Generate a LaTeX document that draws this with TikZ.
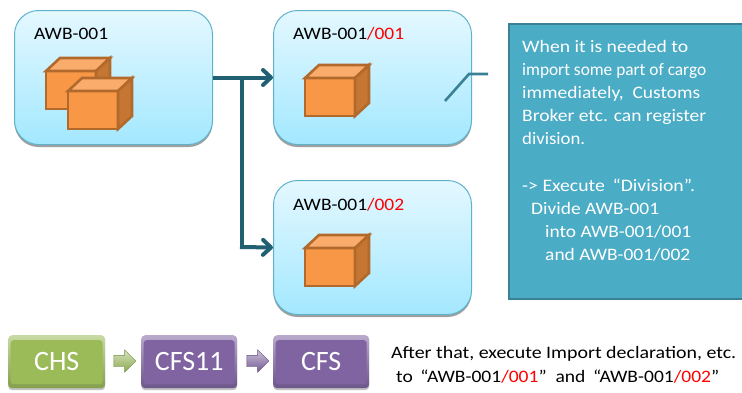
\documentclass[tikz,border=0pt]{standalone}
\usepackage{fontspec}
\setmainfont{Carlito}
\usetikzlibrary{shadows,shapes.arrows,arrows.meta,calc}
\definecolor{linkc}{HTML}{215F72}
\definecolor{callc}{HTML}{3A8196}
\definecolor{panelc}{HTML}{4BACC6}
\definecolor{boxline}{HTML}{5FB2CC}
\definecolor{redc}{HTML}{FF0000}
\definecolor{cubeline}{HTML}{B2692C}
\definecolor{boxtop}{HTML}{E4F8FF}
\definecolor{boxbot}{HTML}{A3E8FF}
\definecolor{cubefront}{HTML}{F89846}
\definecolor{cubetop}{HTML}{FAAC6C}
\definecolor{cubeside}{HTML}{C57632}
\definecolor{greenb}{HTML}{9BBB59}
\definecolor{purpb}{HTML}{8064A2}
\newcommand{\RED}[1]{\textcolor{redc}{#1}}
\newcommand{\FIT}[2]{\resizebox{#1pt}{\height}{#2}}
\tikzset{
  x=1pt,y=-1pt,
  awbbox/.style={draw=boxline,line width=1pt,rounded corners=24pt,minimum width=198pt,minimum height=134pt,
    inner sep=0pt,anchor=north west,top color=boxtop,bottom color=boxbot,
    drop shadow={shadow xshift=0pt,shadow yshift=-2.5pt,opacity=.5,fill=black!75}},
  awblabel/.style={anchor=base west,inner sep=0pt,font=\fontsize{17.5}{20}\selectfont},
  bevel/.style={rounded corners=4pt,minimum width=97pt,minimum height=53pt,inner sep=0pt,anchor=north west,
    text=white,font=\fontsize{28}{30}\selectfont,
    top color=#1!55!white,bottom color=#1!85!black,
    drop shadow={shadow xshift=0pt,shadow yshift=-2pt,opacity=.4,fill=black!60},
    path picture={\fill[#1,rounded corners=3pt]
      ([shift={(2.5pt,-5pt)}]path picture bounding box.north west) rectangle
      ([shift={(-2.5pt,4pt)}]path picture bounding box.south east);}},
  blockarrow/.style={single arrow,minimum height=22pt,text height=11pt,text depth=0pt,text width=0pt,single arrow head extend=5.5pt,
    single arrow head indent=0pt,inner sep=0pt,draw=#1!75!black,line width=.4pt,
    top color=#1!40!white,bottom color=#1!90!black},
  link/.style={draw=linkc,line width=4pt,-{Straight Barb[length=8pt,width=15pt,line width=4pt,round]}},
  branch/.style={draw=linkc,line width=4pt},
  calline/.style={draw=callc,line width=2.6pt},
  panel/.style={fill=panelc,draw=callc,line width=2pt,minimum width=240pt,minimum height=275pt,anchor=north west,inner sep=0pt},
  paneltext/.style={anchor=north west,inner sep=0pt,text=white,align=left,font=\fontsize{17.5}{23}\selectfont},
  bottomtext/.style={anchor=north west,inner sep=0pt,align=left,font=\fontsize{17.5}{24}\selectfont},
  cube/.pic={
    \path[fill=cubefront,draw=cubeline,line width=2.6pt,line join=miter] (0,13) rectangle (50,51);
    \path[fill=cubetop,draw=cubeline,line width=2.6pt] (0,13) -- (14,0) -- (64,0) -- (50,13) -- cycle;
    \path[fill=cubeside,draw=cubeline,line width=2.6pt] (50,13) -- (64,0) -- (64,38) -- (50,51) -- cycle;
  }
}
\begin{document}
\begin{tikzpicture}
\useasboundingbox (0,0) rectangle (742,392);
% main boxes
\node[awbbox] (a) at (14,10) {};
\node[awbbox] (b) at (273,10) {};
\node[awbbox] (c) at (273,180) {};
\node[awblabel] (al) at (34,39) {\FIT{74}{AWB-001}};
\node[awblabel] (bl) at (293,39) {\FIT{111}{AWB-001\RED{/001}}};
\node[awblabel] (cl) at (293,210) {\FIT{111}{AWB-001\RED{/002}}};
% cubes
\pic at (46,58) {cube};
\pic at (68,78) {cube};
\pic at (305,65) {cube};
\pic at (305,235) {cube};
% connectors
\coordinate (j) at (242,77);
\coordinate (k) at (242,247);
\draw[link] (a.east) -- (b.west);
\draw[branch] (j) -- (k);
\draw[link] ([xshift=-2pt]k) -- (c.west);
% callout
\node[panel] (p) at (508,23) {};
\coordinate (c1) at (445,101);
\coordinate (c2) at (469,74);
\coordinate (c3) at (488,74);
\draw[calline] (c1) -- (c2) -- (c3);
\node[paneltext] (pt) at (522,40) {\FIT{166}{When it is needed to}\\\FIT{184}{import some part of cargo}\\\FIT{178}{immediately,\ \ Customs}\\\FIT{184}{Broker etc. can register}\\\FIT{63}{division.}\\[24pt]\FIT{173}{-> Execute \,“Division”.}\\\hspace*{9pt}\FIT{128}{Divide AWB-001}\\\hspace*{23pt}\FIT{146}{into AWB-001/001}\\\hspace*{23pt}\FIT{145}{and AWB-001/002}};
% flow
\node[bevel=greenb] (chs) at (8,335) {CHS};
\node[bevel=purpb,minimum width=96pt] (f11) at (141,335) {CFS11};
\node[bevel=purpb,minimum width=96pt] (cfs) at (273,335) {CFS};
\node[blockarrow=greenb] (ar1) at (122,361) {};
\node[blockarrow=purpb] (ar2) at (255,361) {};
\node[bottomtext] (bt) at (391,346) {\FIT{345}{After that, execute Import declaration, etc.}\\\hspace*{5pt}\FIT{323}{to \,“AWB-001\RED{/001}”\ \ and \,“AWB-001\RED{/002}”}};
\end{tikzpicture}
\end{document}
